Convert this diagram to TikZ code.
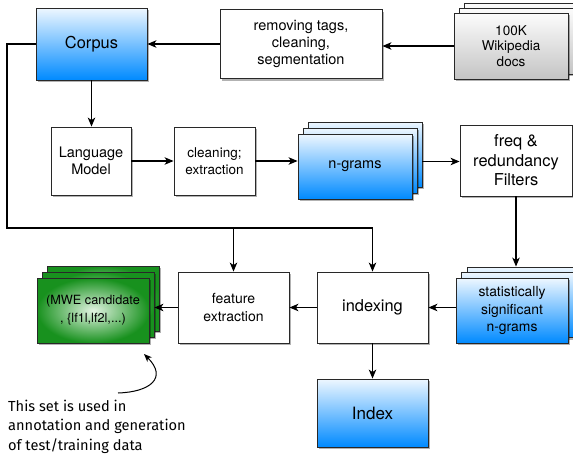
\documentclass[tikz,border=0pt]{standalone}
\usepackage{fontspec}
\setmainfont{TeX Gyre Heros}
\newfontfamily\notefont{Fira Sans}
\usetikzlibrary{arrows.meta,shadows}

\definecolor{bluetop}{RGB}{238,247,255}
\definecolor{bluebot}{RGB}{0,138,255}
\definecolor{graytop}{RGB}{252,252,252}
\definecolor{graybot}{RGB}{196,196,196}
\definecolor{greenin}{RGB}{226,244,226}
\definecolor{greenout}{RGB}{24,145,30}
\definecolor{boxedge}{RGB}{40,40,40}

\newcommand{\fs}[2]{\fontsize{#1}{#2}\selectfont}

\tikzset{
  boxbase/.style={draw=boxedge, line width=0.9pt, align=center, inner sep=0pt,
    drop shadow={shadow xshift=1.5pt, shadow yshift=-2pt, opacity=0.3, fill=black}},
  plainbox/.style={boxbase, fill=white},
  bluebox/.style={boxbase, top color=bluetop, bottom color=bluebot},
  graybox/.style={boxbase, top color=graytop, bottom color=graybot},
  greenbox/.style={boxbase, inner color=greenin, outer color=greenout},
  arr/.style={draw=black, line width=1.1pt, -{Stealth[length=9pt,width=7.5pt,inset=2.5pt]}},
  link/.style={draw=black, line width=1.1pt}
}

\begin{document}
\begin{tikzpicture}[x=1pt,y=-1pt]
\useasboundingbox (0,0) rectangle (573,455);

% top row
\node[bluebox, minimum width=111pt, minimum height=72pt, font=\fs{16.4}{19}] (corpus) at (91.5,44) {Corpus};
\node[plainbox, minimum width=162pt, minimum height=69pt, font=\fs{14.5}{17}] (removing) at (301,44) {removing tags,\\cleaning,\\segmentation};
\node[graybox, minimum width=114pt, minimum height=66pt] (wiki3) at (521,36) {};
\node[graybox, minimum width=114pt, minimum height=66pt] (wiki2) at (516,41) {};
\node[graybox, minimum width=114pt, minimum height=66pt, font=\fs{13.5}{15.5}] (wiki) at (511,46) {100K\\Wikipedia\\docs};

% second row
\node[plainbox, minimum width=80pt, minimum height=68pt, font=\fs{14.5}{17}] (lm) at (91,161) {Language\\Model};
\node[plainbox, minimum width=81pt, minimum height=68pt, font=\fs{13.5}{17}] (clean) at (214.5,161) {cleaning;\\extraction};
\node[bluebox, minimum width=114pt, minimum height=65pt] (ng3) at (365,154.5) {};
\node[bluebox, minimum width=114pt, minimum height=65pt] (ng2) at (360,160.5) {};
\node[bluebox, minimum width=114pt, minimum height=65pt, font=\fs{14.5}{17}] (ng) at (355,166.5) {n-grams};
\node[plainbox, minimum width=112pt, minimum height=71pt, font=\fs{16.4}{19.5}] (freq) at (516,160.5) {freq \&\\redundancy\\Filters};

% third row
\node[bluebox, minimum width=112pt, minimum height=65pt] (st3) at (523,299.5) {};
\node[bluebox, minimum width=112pt, minimum height=65pt] (st2) at (517.5,305) {};
\node[bluebox, minimum width=112pt, minimum height=65pt, font=\fs{13.9}{17.5}] (st) at (512,310.5) {statistically\\significant\\n-grams};
\node[plainbox, minimum width=111pt, minimum height=71pt, font=\fs{16.4}{19}] (idx) at (372.5,307.5) {indexing};
\node[plainbox, minimum width=111pt, minimum height=71pt, font=\fs{14}{17.5}] (feat) at (233.5,307.5) {feature\\extraction};
\node[greenbox, minimum width=112pt, minimum height=65pt] (mwe3) at (103,298.5) {};
\node[greenbox, minimum width=112pt, minimum height=65pt] (mwe2) at (98,304.5) {};
\node[greenbox, minimum width=112pt, minimum height=65pt, font=\fs{12.7}{18}] (mwe) at (93,310.5) {(MWE candidate\\, \{lf1l,lf2l,...)};

% bottom
\node[bluebox, minimum width=111pt, minimum height=68pt, font=\fs{17}{19}] (index) at (372.5,413) {Index};

% annotation
\node[anchor=north west, align=left, inner sep=0pt, font=\notefont\fs{14.6}{19.3}] (note) at (8,400) {This set is used in\\annotation and generation\\of test/training data};
\coordinate (ctail) at (118,393);
\coordinate (ctip) at (144,354);

% connectors
\draw[arr] (wiki.west) -- (removing.east |- wiki.west);
\draw[arr] (removing.west) -- (corpus.east |- removing.west);
\draw[arr] (corpus.south) -- (corpus.south |- lm.north);
\draw[arr] (lm.east) -- (clean.west);
\draw[arr] (clean.east) -- (ng.west |- clean.east);
\coordinate (ngout) at (ng3.east |- freq.west);
\draw[arr] ([yshift=-1pt]ngout) -- ([yshift=-1pt]freq.west);
\draw[arr] (freq.south) -- (freq.south |- st3.north);
\draw[arr] (st.west |- idx.east) -- (idx.east);
\draw[arr] (idx.west) -- (feat.east);
\draw[arr] (feat.west) -- (mwe2.east |- feat.west);
\draw[arr] (idx.south) -- (index.north);

% feedback line from the corpus
\coordinate (bendB) at (7,228);
\draw[link] (corpus.west) -| (bendB) -- (bendB -| idx.north);
\draw[arr] (bendB -| idx.north) -- (idx.north);
\draw[arr] (bendB -| feat.north) -- (feat.north);

% note arrow
\draw[line width=1pt, -{Stealth[length=8pt,width=6.5pt,inset=2.5pt]}] (ctail) .. controls (150,392) and (168,378) .. (ctip);
\end{tikzpicture}
\end{document}
